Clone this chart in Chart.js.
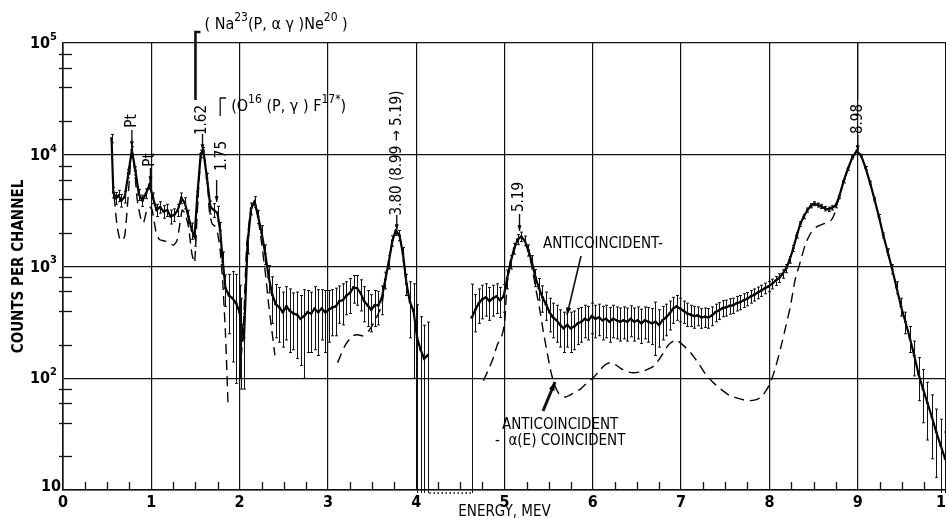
<!DOCTYPE html>
<html><head><meta charset="utf-8">
<script src="https://cdn.jsdelivr.net/npm/chart.js@4.4.1/dist/chart.umd.min.js"></script>
<style>html,body{margin:0;padding:0;background:#fff;overflow:hidden;width:946px;height:521px;}canvas{display:block;}</style>
</head><body>
<canvas id="c" width="950" height="521"></canvas>
<script>
const FONT = '"Liberation Sans Narrow","DejaVu Sans Condensed","Liberation Sans",Arial,sans-serif';

// ---- tick labels ----
const xTickLabels = ['0','1','2','3','4','5','6','7','8','9','10'];
const yDecades = [10, 100, 1000, 10000, 100000];
const yDecadeExponents = ['', '2', '3', '4', '5'];
const yMinorMultipliers = [2, 4, 6, 8];
const xMinorStep = 0.25;

// ---- ANTICOINCIDENT spectrum, low-energy part (MeV, counts/channel, error) ----
const lowEnergy = [0.55,0.57,0.60,0.63,0.66,0.70,0.74,0.78,0.82,0.86,
  0.90,0.94,0.98,1.02,1.06,1.10,1.14,1.18,1.22,1.26,
  1.30,1.34,1.38,1.42,1.46,1.49,1.52,1.56,1.59,1.63,
  1.67,1.71,1.75,1.78,1.81,1.84,1.88,1.92,1.96,2.00,
  2.02,2.05,2.09,2.13,2.17,2.21,2.25,2.29,2.33,2.37,
  2.41,2.45,2.49,2.53,2.57,2.61,2.65,2.69,2.73,2.77,
  2.81,2.85,2.89,2.93,2.97,3.01,3.05,3.09,3.13,3.17,
  3.21,3.25,3.29,3.33,3.37,3.41,3.45,3.49,3.53,3.57,
  3.61,3.65,3.69,3.73,3.77,3.81,3.85,3.89,3.93,3.97,
  4.01,4.05,4.09,4.13];
const lowCounts = [14000,4600,4100,4300,3900,4200,6800,11000,7200,4400,
  3900,4500,5400,4100,3200,3400,3100,3200,2800,2900,
  3200,4100,3700,2800,2100,1850,4200,10200,10800,6200,
  3400,3200,3000,2100,1100,640,550,520,470,390,
  300,230,1600,3300,3800,2800,2000,1300,800,560,
  460,430,390,440,400,380,370,340,360,390,
  380,420,390,420,390,410,430,440,490,500,
  550,580,650,640,580,490,450,410,450,450,
  520,760,1100,1700,2100,1900,1300,700,480,400,
  230,180,150,160];
const lowErrors = [1200,500,500,500,500,500,600,800,600,500,
  450,450,500,450,400,400,400,400,400,380,
  400,450,420,380,350,330,450,800,800,600,
  450,450,450,380,250,200,300,380,380,290,
  220,150,300,400,420,380,320,260,220,250,
  230,220,200,220,230,200,220,210,260,220,
  210,240,230,200,220,200,190,200,180,200,
  180,200,180,190,180,170,160,150,160,150,
  150,130,150,180,200,200,180,150,250,300,
  225,175,148,158];

// ---- ANTICOINCIDENT spectrum, high-energy part ----
const highEnergy = [4.63,4.67,4.71,4.75,4.79,4.83,4.87,4.91,4.95,4.99,
  5.03,5.07,5.11,5.15,5.19,5.23,5.27,5.31,5.35,5.39,
  5.43,5.47,5.51,5.55,5.59,5.63,5.67,5.71,5.75,5.79,
  5.83,5.87,5.91,5.95,5.99,6.03,6.07,6.11,6.15,6.19,
  6.23,6.27,6.31,6.35,6.39,6.43,6.47,6.51,6.55,6.59,
  6.63,6.67,6.71,6.75,6.79,6.83,6.87,6.91,6.95,6.99,
  7.03,7.07,7.11,7.15,7.19,7.23,7.27,7.31,7.35,7.39,
  7.43,7.47,7.51,7.55,7.59,7.63,7.67,7.71,7.75,7.79,
  7.83,7.87,7.91,7.95,7.99,8.03,8.07,8.11,8.15,8.19,
  8.23,8.27,8.31,8.35,8.39,8.43,8.47,8.51,8.55,8.59,
  8.63,8.67,8.71,8.75,8.79,
  8.84,8.89,8.94,8.99,9.04,9.09,9.14,9.19,9.24,9.29,
  9.34,9.39,9.44,9.49,9.54,9.59,9.64,9.69,9.74,9.79,
  9.84,9.89,9.94,9.99];
const highCounts = [350,410,470,510,530,490,520,540,500,540,
  780,1100,1450,1750,1850,1700,1400,1100,800,640,
  530,460,390,350,330,300,280,300,280,290,
  310,320,340,330,360,340,350,330,340,320,
  340,330,320,330,320,340,320,330,310,330,
  320,310,320,300,330,350,380,420,440,420,
  400,380,370,360,365,350,355,350,365,390,
  405,425,430,445,450,470,480,500,515,540,
  560,585,610,640,665,700,745,790,860,960,
  1150,1450,1900,2400,2800,3200,3500,3650,3550,3450,
  3300,3250,3350,3500,4200,
  5800,7500,9500,10800,9800,7600,5600,4000,2800,1900,
  1350,950,650,440,320,230,160,108,80,60,
  45,33,25,19];
const highErrors = [345,150,160,170,170,160,160,160,150,150,
  150,150,160,180,180,170,160,150,140,140,
  140,130,130,120,120,110,110,110,110,110,
  110,110,110,110,110,110,110,110,110,110,
  110,105,105,105,105,105,105,105,105,105,
  110,110,160,110,110,110,110,110,110,100,
  90,90,80,80,70,70,70,70,70,70,
  70,70,70,70,70,70,70,70,70,70,
  70,70,70,70,70,70,70,70,75,80,
  80,90,100,120,130,140,150,150,150,150,
  150,150,150,150,150,
  200,250,300,300,300,250,200,150,120,100,
  90,90,80,80,70,60,55,45,40,32,
  26,20,18,14];

// ---- channels below the axis (dotted run along the bottom) ----
const gapEnergy = [4.15, 4.63];
const gapCounts = [9.4, 9.4];

// ---- ANTICOINCIDENT - alpha(E) COINCIDENT (dashed) ----
const dashEnergy = [0.58,0.61,0.64,0.67,0.70,0.73,0.76,0.78,0.81,0.84,
  0.88,0.91,0.95,0.98,1.01,1.05,1.09,1.14,1.20,1.25,
  1.29,1.32,1.35,1.38,1.42,1.46,1.49,1.52,1.56,1.59,
  1.63,1.66,1.69,1.72,1.75,1.78,1.81,1.84,1.87,1.93,
  2.00,2.04,2.08,2.13,2.17,2.21,2.25,2.29,2.33,2.37,2.40,2.70,
  3.11,3.20,3.28,3.34,3.40,3.47,3.55,3.61,3.65,3.69,
  3.73,3.77,3.81,3.85,3.89,3.93,4.40,
  4.76,4.82,4.87,4.92,4.97,5.00,5.03,5.07,5.11,5.15,
  5.19,5.23,5.27,5.31,5.36,5.40,5.44,5.48,5.52,5.56,
  5.62,5.69,5.76,5.86,5.94,6.00,6.08,6.14,6.20,6.26,
  6.32,6.40,6.46,6.54,6.62,6.70,6.78,6.86,6.94,7.00,
  7.06,7.12,7.20,7.28,7.36,7.45,7.55,7.65,7.75,7.84,
  7.91,7.96,8.01,8.07,8.13,8.19,8.24,8.29,8.35,8.41,
  8.47,8.53,8.58,8.64,8.70,8.74,8.77,8.80,8.84,8.89,
  8.94,8.99];
const dashCounts = [4200,2400,1800,1700,1900,3500,7500,10500,7500,4000,
  2700,2450,3200,3400,3200,2100,1750,1700,1650,1550,
  1700,2300,3200,3000,2300,1300,1080,3000,9500,10500,
  6500,3000,2400,2300,2000,1400,700,250,55,null,
  110,250,1500,3300,3800,2700,1600,900,450,250,160,null,
  138,200,240,245,240,270,350,450,760,1100,
  1700,2100,1900,1300,700,480,null,
  95,120,150,200,240,310,700,1100,1450,1750,
  1850,1700,1350,1000,600,410,260,175,120,90,
  72,68,72,80,92,100,118,132,138,132,
  122,114,112,114,120,130,160,200,220,205,
  185,165,135,108,92,80,70,66,63,64,
  68,77,91,125,190,300,450,750,1100,1600,
  2000,2250,2350,2450,2600,3000,3700,4300,5800,7500,
  9500,10800];

const pts = (xs, ys) => xs.map((x, i) => ({x: x, y: ys[i]}));

// ---- annotation texts ----
const peakLabels = [
  {text: 'Pt',   e: 0.78, cy: 121, a1: 130, a2: 147},
  {text: 'Pt',   e: 0.99, cy: 160, a1: 168, a2: 182},
  {text: '1.62', e: 1.58, cy: 120, a1: 134, a2: 150},
  {text: '1.75', e: 1.80, cy: 156, a1: null, a2: null},
  {text: '3.80 (8.99 \u2192 5.19)', e: 3.78, cy: 153, a1: 215, a2: 230},
  {text: '5.19', e: 5.17, cy: 197, a1: 214, a2: 231},
  {text: '8.98', e: 9.00, cy: 119, a1: 135, a2: 151}
];
const reactionNa = [['( Na', 0], ['23', 1], ['(P, \u03B1 \u03B3 )Ne', 0], ['20', 1], [' )', 0]];
const reactionO = [['(O', 0], ['16', 1], [' (P, \u03B3 ) F', 0], ['17*', 1], [')', 0]];
const curveLabelTop = 'ANTICOINCIDENT-';
const curveLabelLow = ['ANTICOINCIDENT', '-  \u03B1(E) COINCIDENT'];

function rich(ctx, parts, x, y, size) {
  let cx = x;
  ctx.textAlign = 'left'; ctx.textBaseline = 'middle';
  for (const [t, sup] of parts) {
    ctx.font = (sup ? Math.round(size * 0.72) : size) + 'px ' + FONT;
    ctx.fillText(t, cx, sup ? y - size * 0.42 : y);
    cx += ctx.measureText(t).width;
  }
}
function arrow(ctx, x1, y1, x2, y2, w, head) {
  ctx.lineWidth = w;
  ctx.beginPath(); ctx.moveTo(x1, y1); ctx.lineTo(x2, y2); ctx.stroke();
  const ang = Math.atan2(y2 - y1, x2 - x1);
  ctx.beginPath(); ctx.moveTo(x2, y2);
  ctx.lineTo(x2 - head * Math.cos(ang - 0.33), y2 - head * Math.sin(ang - 0.33));
  ctx.lineTo(x2 - head * Math.cos(ang + 0.33), y2 - head * Math.sin(ang + 0.33));
  ctx.closePath(); ctx.fill();
}

const errorBarPlugin = {
  id: 'errorBars',
  afterDatasetsDraw(chart) {
    const {ctx, chartArea: a, scales: {x: xs, y: ys}} = chart;
    ctx.save();
    ctx.beginPath(); ctx.rect(a.left, a.top, a.right - a.left, a.bottom - a.top + 3); ctx.clip();
    ctx.strokeStyle = '#111'; ctx.lineWidth = 1;
    chart.data.datasets.forEach(ds => {
      if (!ds.errors) return;
      ds.data.forEach((p, i) => {
        const e = ds.errors[i];
        if (p.y == null || e == null) return;
        const px = Math.round(xs.getPixelForValue(p.x)) + 0.5;
        const y1 = ys.getPixelForValue(Math.max(p.y - e, 1));
        const y2 = ys.getPixelForValue(p.y + e);
        ctx.beginPath();
        ctx.moveTo(px, y1); ctx.lineTo(px, y2);
        ctx.moveTo(px - 1.5, y1); ctx.lineTo(px + 1.5, y1);
        ctx.moveTo(px - 1.5, y2); ctx.lineTo(px + 1.5, y2);
        ctx.stroke();
      });
    });
    ctx.restore();
  }
};

const decorPlugin = {
  id: 'decor',
  afterDraw(chart) {
    const {ctx, chartArea: a, scales: {x: xs, y: ys}} = chart;
    ctx.save();
    ctx.fillStyle = '#000'; ctx.strokeStyle = '#111';
    // y decade labels
    yDecades.forEach((v, i) => {
      const y = ys.getPixelForValue(v);
      const ex = yDecadeExponents[i];
      ctx.font = 'bold 16px ' + FONT; ctx.textBaseline = 'middle'; ctx.textAlign = 'right';
      if (ex === '') { ctx.fillText('10', a.left - 2, y - 3); return; }
      ctx.fillText('10', 50, y + 1);
      ctx.font = 'bold 11px ' + FONT; ctx.textAlign = 'left';
      ctx.fillText(ex, 50, y - 6);
    });
    // minor ticks
    ctx.lineWidth = 1.3;
    yDecades.slice(0, -1).forEach(d => yMinorMultipliers.forEach(m => {
      const y = Math.round(ys.getPixelForValue(d * m)) + 0.5;
      ctx.beginPath(); ctx.moveTo(a.left - 4, y); ctx.lineTo(a.left + 9, y); ctx.stroke();
    }));
    for (let e = xMinorStep; e < 10; e += xMinorStep) {
      if (Math.abs(e - Math.round(e)) < 1e-6) continue;
      const x = Math.round(xs.getPixelForValue(e)) + 0.5;
      ctx.beginPath(); ctx.moveTo(x, a.bottom); ctx.lineTo(x, a.bottom - 8); ctx.stroke();
    }
    // peak labels (rotated) with arrows
    peakLabels.forEach(p => {
      const x = xs.getPixelForValue(p.e);
      ctx.save(); ctx.translate(x, p.cy); ctx.rotate(-Math.PI / 2);
      ctx.font = '15px ' + FONT; ctx.textAlign = 'center'; ctx.textBaseline = 'middle';
      ctx.fillText(p.text, 0, 0); ctx.restore();
      if (p.a1 != null) arrow(ctx, x, p.a1, x, p.a2, 1.4, 6);
    });
    // 1.62 reaction bracket + label
    const x162 = xs.getPixelForValue(1.50);
    ctx.lineWidth = 2.6;
    ctx.beginPath(); ctx.moveTo(x162, 100); ctx.lineTo(x162, 32); ctx.lineTo(x162 + 5, 32); ctx.stroke();
    rich(ctx, reactionNa, x162 + 9, 25, 16);
    // 1.75 reaction bracket + label + arrow
    const x175 = xs.getPixelForValue(1.78);
    ctx.lineWidth = 1.3;
    ctx.beginPath(); ctx.moveTo(x175, 116); ctx.lineTo(x175, 98); ctx.lineTo(x175 + 6, 98); ctx.stroke();
    rich(ctx, reactionO, x175 + 11, 107, 16);
    arrow(ctx, xs.getPixelForValue(1.74), 180, xs.getPixelForValue(1.74), 202, 1.4, 6);
    // vertical line above 8.98
    const x898 = xs.getPixelForValue(9.0);
    ctx.lineWidth = 1.2;
    ctx.beginPath(); ctx.moveTo(x898, a.top); ctx.lineTo(x898, 100); ctx.stroke();
    // curve labels
    ctx.font = '15px ' + FONT; ctx.textAlign = 'left'; ctx.textBaseline = 'middle';
    ctx.fillText(curveLabelTop, 543, 244);
    arrow(ctx, 581, 256, 567, 315, 1.6, 8);
    ctx.fillText(curveLabelLow[0], 502, 425);
    ctx.fillText(curveLabelLow[1], 495, 441);
    arrow(ctx, 543, 411, 555, 382, 3, 9);
    ctx.restore();
  }
};

const gridStyle = {color: '#111', lineWidth: 1.2, drawTicks: false};
new Chart(document.getElementById('c').getContext('2d'), {
  type: 'line',
  data: {datasets: [
    {label: 'ANTICOINCIDENT', data: pts(lowEnergy, lowCounts), errors: lowErrors,
     borderColor: '#000', borderWidth: 2.2, pointRadius: 1.4, pointBackgroundColor: '#000', pointBorderWidth: 0, tension: 0},
    {label: 'ANTICOINCIDENT (high)', data: pts(highEnergy, highCounts), errors: highErrors,
     borderColor: '#000', borderWidth: 2.2, pointRadius: 1.4, pointBackgroundColor: '#000', pointBorderWidth: 0, tension: 0},
    {label: 'below range', data: pts(gapEnergy, gapCounts), clip: false,
     borderColor: '#000', borderWidth: 1.5, borderDash: [1.5, 2.5], pointRadius: 0},
    {label: 'ANTICOINCIDENT - \u03B1(E) COINCIDENT', data: pts(dashEnergy, dashCounts),
     borderColor: '#000', borderWidth: 1.4, borderDash: [10, 6], pointRadius: 0, spanGaps: false, tension: 0.2}
  ]},
  options: {
    responsive: false, animation: false,
    plugins: {legend: {display: false}, tooltip: {enabled: false}},
    layout: {padding: {top: 43, right: 0, left: 0, bottom: 0}},
    scales: {
      x: {type: 'linear', min: 0, max: 10,
        afterFit: s => { s.height = 31; s.paddingLeft = 0; s.paddingRight = 0; },
        ticks: {stepSize: 1, autoSkip: false, maxRotation: 0, padding: 3, color: '#000',
          font: {family: FONT, size: 16, weight: 'bold'}, callback: (v, i) => xTickLabels[i]},
        grid: gridStyle, border: {color: '#111', width: 1.6},
        title: {display: true, text: 'ENERGY, MEV', color: '#000', padding: 0, font: {family: FONT, size: 15}}},
      y: {type: 'logarithmic', min: 10, max: 100000,
        afterFit: s => { s.width = 63; s.paddingTop = 0; s.paddingBottom = 0; },
        afterBuildTicks: s => { s.ticks = yDecades.map(v => ({value: v})); },
        ticks: {display: false},
        grid: gridStyle, border: {color: '#111', width: 1.6},
        title: {display: true, text: 'COUNTS PER CHANNEL', color: '#000', padding: {top: 10, bottom: 0},
          font: {family: FONT, size: 15, weight: 'bold'}}}
    }
  },
  plugins: [errorBarPlugin, decorPlugin]
});
</script>
</body></html>
